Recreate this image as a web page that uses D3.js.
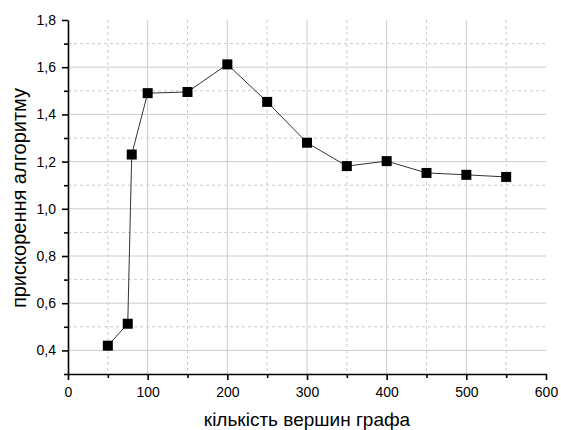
<!DOCTYPE html>
<html>
<head>
<meta charset="utf-8">
<script src="https://cdn.jsdelivr.net/npm/d3@7"></script>
<style>
  body { margin: 0; background: #fff; }
  svg { font-family: Arial, "Liberation Sans", sans-serif; }
  .axis path, .axis line { stroke: #000; stroke-width: 1.6; }
  .axis text { font-size: 14px; fill: #000; }
</style>
</head>
<body>
<svg width="561" height="430"></svg>
<script>
// data
const vertices = [50, 75, 80, 100, 150, 200, 250, 300, 350, 400, 450, 500, 550];
const speedup = [0.42, 0.513, 1.23, 1.49, 1.495, 1.612, 1.453, 1.28, 1.181, 1.202, 1.152, 1.144, 1.135];
const xTicks = [0, 100, 200, 300, 400, 500, 600];
const yTicks = [0.4, 0.6, 0.8, 1.0, 1.2, 1.4, 1.6, 1.8];
const xTitle = 'кількість вершин графа';
const yTitle = 'прискорення алгоритму';

const glue = { left: 68, top: 20, right: 15, bottom: 56 };
const width = 546 - glue.left;
const height = 374 - glue.top;

const svg = d3.select('svg');
const g = svg.append('g').attr('transform', `translate(${glue.left},${glue.top})`);

const x = d3.scaleLinear().domain([0, 600]).range([0, width]);
const y = d3.scaleLinear().domain([0.3, 1.8]).range([height, 0]);

// grid: solid on major, dashed on minor
const xMajor = d3.range(100, 501, 100);
const xMinor = d3.range(50, 551, 100);
const yMajor = d3.range(0.4, 1.61, 0.2);
const yMinor = d3.range(0.5, 1.71, 0.2);

g.selectAll('.vmaj').data(xMajor).enter().append('line')
  .attr('x1', d => x(d)).attr('x2', d => x(d))
  .attr('y1', 0).attr('y2', height)
  .attr('stroke', '#cccccc').attr('stroke-width', 1);
g.selectAll('.vmin').data(xMinor).enter().append('line')
  .attr('x1', d => x(d)).attr('x2', d => x(d))
  .attr('y1', 0).attr('y2', height)
  .attr('stroke', '#cccccc').attr('stroke-width', 1)
  .attr('stroke-dasharray', '3,3');
g.selectAll('.hmaj').data(yMajor).enter().append('line')
  .attr('x1', 0).attr('x2', width)
  .attr('y1', d => y(d)).attr('y2', d => y(d))
  .attr('stroke', '#cccccc').attr('stroke-width', 1);
g.selectAll('.hmin').data(yMinor).enter().append('line')
  .attr('x1', 0).attr('x2', width)
  .attr('y1', d => y(d)).attr('y2', d => y(d))
  .attr('stroke', '#cccccc').attr('stroke-width', 1)
  .attr('stroke-dasharray', '3,3');

// axes
const fmt = d => d3.format('.1f')(d).replace('.', ',');
g.append('g')
  .attr('class', 'axis')
  .attr('transform', `translate(0,${height})`)
  .call(d3.axisBottom(x).tickValues(xTicks).tickSize(6).tickPadding(7).tickSizeOuter(0));
g.append('g')
  .attr('class', 'axis')
  .attr('transform', `translate(0,${height})`)
  .call(d3.axisBottom(x).tickValues(xMinor).tickSize(4).tickFormat('').tickSizeOuter(0))
  .select('.domain').remove();
g.append('g')
  .attr('class', 'axis')
  .call(d3.axisLeft(y).tickValues(yTicks).tickFormat(fmt).tickSize(6).tickPadding(6).tickSizeOuter(0));
g.append('g')
  .attr('class', 'axis')
  .call(d3.axisLeft(y).tickValues(yMinor.concat([0.3])).tickSize(4).tickFormat('').tickSizeOuter(0))
  .select('.domain').remove();

// series
const pts = vertices.map((v, i) => [v, speedup[i]]);
g.append('path')
  .datum(pts)
  .attr('fill', 'none')
  .attr('stroke', '#333')
  .attr('stroke-width', 1)
  .attr('d', d3.line().x(d => x(d[0])).y(d => y(d[1])));
g.selectAll('.pt').data(pts).enter().append('rect')
  .attr('x', d => x(d[0]) - 5)
  .attr('y', d => y(d[1]) - 5)
  .attr('width', 10).attr('height', 10)
  .attr('fill', '#000');

// titles
svg.append('text')
  .attr('x', glue.left + width / 2).attr('y', 426)
  .attr('text-anchor', 'middle')
  .style('font-size', '19px')
  .text(xTitle);
svg.append('text')
  .attr('transform', `translate(26,${glue.top + height / 2 + 1}) rotate(-90)`)
  .attr('text-anchor', 'middle')
  .style('font-size', '20px')
  .text(yTitle);
</script>
</body>
</html>
